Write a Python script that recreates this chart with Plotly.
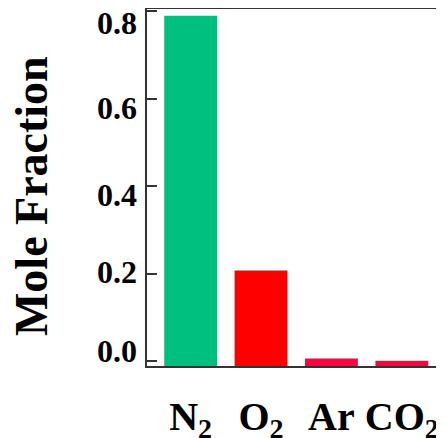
import plotly.graph_objects as go

categories = ["N<sub>2</sub>", "O<sub>2</sub>", "Ar", "CO<sub>2</sub>"]
mole_fraction = [0.79, 0.207, 0.006, 0.0004]
bar_colors = ["#00C080", "#FF0000", "#FF0040", "#FF0040"]
y_ticks = [0.0, 0.2, 0.4, 0.6, 0.8]
y_tick_labels = ["0.0", "0.2", "0.4", "0.6", "0.8"]
y_label_nudge = [10, 2, -9, -9, -12]  # pixel nudges of the printed tick labels

Y_MIN = -0.0114
Y_MAX = 0.8057
FONT = "Liberation Serif"

fig = go.Figure(
    go.Bar(
        x=categories,
        y=[v - Y_MIN for v in mole_fraction],
        base=Y_MIN,
        marker=dict(color=bar_colors, line=dict(width=0)),
        width=0.75,
    )
)

for val, txt, nudge in zip(y_ticks, y_tick_labels, y_label_nudge):
    fig.add_annotation(
        x=0, xref="paper", xanchor="right", xshift=-8,
        y=val, yref="y", yanchor="middle", yshift=nudge,
        text=txt, showarrow=False,
        font=dict(family=FONT, size=32, color="black", weight="bold"),
    )

fig.add_annotation(
    x=0, xref="paper", xshift=-116, xanchor="center",
    y=0.476, yref="paper", yanchor="middle",
    text="Mole Fraction", textangle=-90, showarrow=False,
    font=dict(family=FONT, size=46, color="black", weight="bold"),
)

fig.update_layout(
    width=436,
    height=430,
    margin=dict(l=139, r=1, t=1, b=72),
    paper_bgcolor="white",
    plot_bgcolor="white",
    showlegend=False,
    font=dict(family=FONT, color="black"),
    xaxis=dict(
        range=[-0.62, 3.585],
        showline=True,
        mirror=True,
        linecolor="#333333",
        linewidth=2,
        ticks="",
        showgrid=False,
        automargin=False,
        tickfont=dict(family=FONT, size=40, color="black", weight="bold"),
        ticklabelstandoff=14,
        ticklabeloverflow="allow",
    ),
    yaxis=dict(
        range=[Y_MIN, Y_MAX],
        tickvals=y_ticks,
        showticklabels=False,
        showline=True,
        mirror=True,
        linecolor="#333333",
        linewidth=2,
        ticks="inside",
        ticklen=10,
        tickwidth=2,
        tickcolor="#333333",
        showgrid=False,
        zeroline=False,
        automargin=False,
    ),
)

fig.write_html("out.html")
